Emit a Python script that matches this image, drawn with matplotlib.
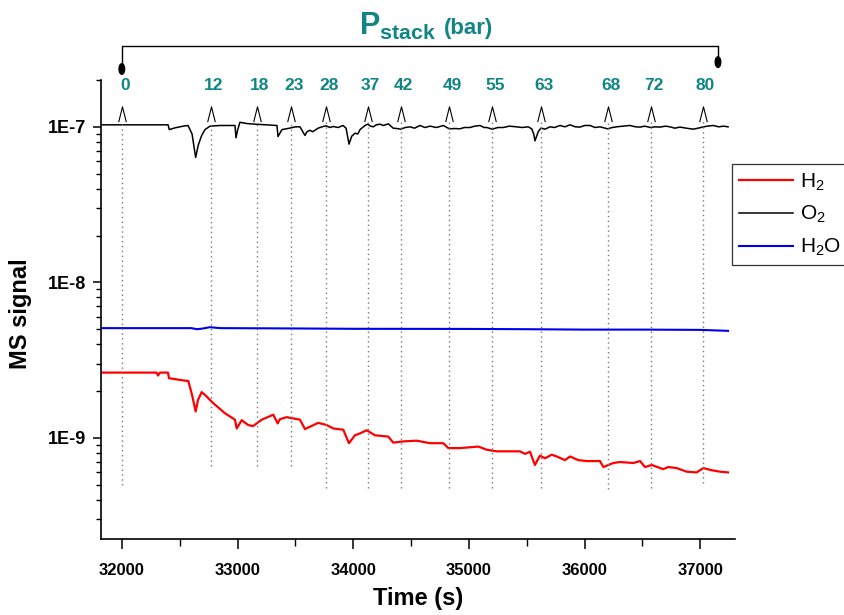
import numpy as np
import matplotlib.pyplot as plt
from matplotlib.path import Path
from matplotlib.patches import Ellipse
from matplotlib.ticker import MultipleLocator, LogLocator, FuncFormatter, NullFormatter
import matplotlib.transforms as mtransforms

plt.rcParams['font.family'] = ['Liberation Sans', 'DejaVu Sans']
plt.rcParams['mathtext.fontset'] = 'custom'
plt.rcParams['mathtext.rm'] = 'Liberation Sans'
plt.rcParams['mathtext.it'] = 'Liberation Sans:italic'
plt.rcParams['mathtext.bf'] = 'Liberation Sans:bold'

# O2 signal (A), values in 1e-7
o2_time = [31820, 32400, 32410, 32460, 32530, 32572, 32607, 32638, 32660, 32690,
           32719, 32762, 32850, 32978, 32987, 33000, 33021, 33080, 33151, 33250,
           33341, 33350, 33384, 33450, 33500, 33540, 33583, 33600, 33626, 33650,
           33696, 33730, 33765, 33800, 33826, 33870, 33912, 33938, 33964, 33987,
           34015, 34040, 34059, 34102, 34125, 34150, 34173, 34200, 34231, 34260,
           34303, 34346, 34380, 34410, 34450, 34491, 34530, 34577, 34620, 34664,
           34720, 34779, 34830, 34880, 34923, 34960, 35009, 35050, 35096, 35130,
           35154, 35202, 35250, 35297, 35350, 35413, 35460, 35513, 35543, 35560,
           35571, 35600, 35623, 35658, 35701, 35740, 35787, 35830, 35874, 35920,
           35960, 36000, 36047, 36090, 36133, 36199, 36240, 36277, 36330, 36392,
           36440, 36479, 36520, 36571, 36610, 36651, 36700, 36738, 36780, 36824,
           36880, 36939, 36980, 37020, 37060, 37112, 37160, 37200, 37240]
o2_signal = [1.03, 1.03, 0.96, 0.985, 1.01, 1.02, 0.90, 0.635, 0.76, 0.88,
             0.96, 1.01, 1.02, 1.02, 0.85, 0.95, 1.07, 1.05, 1.04, 1.03,
             1.02, 0.866, 0.96, 0.98, 1.00, 1.00, 0.88, 0.93, 0.95, 0.93,
             0.98, 1.00, 1.015, 0.99, 1.005, 0.99, 1.02, 0.98, 0.774, 0.87,
             0.91, 0.90, 0.96, 1.02, 1.04, 1.01, 1.00, 1.03, 1.04, 1.02,
             1.045, 0.98, 0.975, 0.966, 0.99, 1.00, 0.98, 1.02, 0.99, 1.01,
             0.99, 1.02, 0.971, 0.975, 0.971, 0.99, 0.99, 1.01, 1.02, 0.99,
             0.99, 0.966, 0.99, 0.99, 1.01, 1.00, 0.99, 1.00, 0.97, 0.90,
             0.813, 0.933, 0.981, 0.966, 1.00, 0.99, 1.02, 1.00, 1.03, 1.00,
             0.996, 1.02, 1.02, 0.99, 1.00, 0.971, 0.99, 1.00, 1.01, 1.02,
             1.00, 0.996, 1.01, 0.99, 1.00, 0.996, 1.01, 1.00, 0.98, 0.996,
             0.98, 0.966, 0.98, 0.996, 1.01, 1.02, 1.00, 1.01, 1.00]

# H2 signal (A), values in 1e-9
h2_time = [31820, 32300, 32313, 32330, 32399, 32408, 32503, 32575, 32607, 32638,
           32658, 32690, 32719, 32791, 32892, 32978, 32993, 33036, 33093, 33134,
           33209, 33309, 33347, 33367, 33425, 33540, 33583, 33626, 33698, 33771,
           33828, 33914, 33963, 34015, 34059, 34116, 34188, 34303, 34346, 34433,
           34549, 34664, 34779, 34822, 34923, 35081, 35154, 35240, 35441, 35485,
           35528, 35571, 35614, 35658, 35716, 35759, 35830, 35874, 35945, 36018,
           36133, 36162, 36248, 36306, 36421, 36479, 36522, 36580, 36680, 36723,
           36796, 36882, 36968, 37026, 37098, 37170, 37240]
h2_signal = [2.63, 2.63, 2.52, 2.63, 2.63, 2.42, 2.36, 2.32, 1.89, 1.48,
             1.75, 1.97, 1.89, 1.67, 1.44, 1.31, 1.15, 1.30, 1.21, 1.19,
             1.31, 1.41, 1.24, 1.32, 1.36, 1.31, 1.14, 1.18, 1.25, 1.21,
             1.15, 1.13, 0.925, 1.04, 1.07, 1.12, 1.04, 1.02, 0.933, 0.95,
             0.96, 0.925, 0.925, 0.86, 0.86, 0.88, 0.84, 0.82, 0.82, 0.79,
             0.815, 0.67, 0.77, 0.74, 0.78, 0.76, 0.72, 0.76, 0.72, 0.71,
             0.71, 0.65, 0.69, 0.70, 0.69, 0.71, 0.65, 0.67, 0.63, 0.65,
             0.64, 0.607, 0.60, 0.64, 0.62, 0.607, 0.60]

# H2O signal (A), values in 1e-9
h2o_time = [31820, 32600, 32650, 32700, 32760, 32850, 33400, 34000, 35000, 35500,
            36000, 36500, 37000, 37240]
h2o_signal = [5.08, 5.08, 5.00, 5.05, 5.15, 5.08, 5.06, 5.03, 5.02, 5.00,
              4.97, 4.97, 4.95, 4.88]

# stack pressure steps
p_stack = ['0', '12', '18', '23', '28', '37', '42', '49', '55', '63', '68', '72', '80']
p_time = [32000, 32771, 33166, 33460, 33765, 34125, 34410, 34830, 35202, 35623,
          36199, 36571, 37020]
p_line_bottom = [5.0, 6.6, 6.6, 6.6, 4.8, 4.8, 4.8, 4.8, 4.8, 4.8, 4.7, 4.8, 5.1]  # 1e-10

teal = '#108585'
ylo, yhi = 2.24e-10, 2e-7

fig = plt.figure(figsize=(8.45, 6.15), dpi=100)
ax = fig.add_axes([101 / 845, 76 / 615, 634 / 845, 459 / 615])

ax.plot(h2_time, np.array(h2_signal) * 1e-9, color='red', lw=1.6, label='H$_2$')
ax.plot(o2_time, np.array(o2_signal) * 1e-7, color='black', lw=1.1, label='O$_2$')
ax.plot(h2o_time, np.array(h2o_signal) * 1e-9, color='#0000ee', lw=1.5, label='H$_2$O')

# dotted markers for pressure steps
ax.vlines(p_time, np.array(p_line_bottom) * 1e-10, 1.09e-7, colors='#777777',
          linestyles=(0, (1, 2.5)), lw=1.0)
chevron = Path([(-0.5, -1), (0, 1), (0.5, -1)], [Path.MOVETO, Path.LINETO, Path.LINETO])
ax.plot(p_time, [1.21e-7] * len(p_time), ls='none', marker=chevron, ms=11,
        mfc='none', mec='black', mew=0.8, clip_on=False)

trans = mtransforms.blended_transform_factory(ax.transData, ax.transAxes)
for t, lab in zip(p_time, p_stack):
    ax.text(t + 25, 0.989, lab, transform=trans, color=teal, fontsize=12.5,
            fontweight='bold', ha='center', va='center', clip_on=False)

# bracket above
x0, x1 = p_time[0], 37153
ax.plot([x0, x0, x1, x1], [1.024, 1.074, 1.074, 1.039], color='black', lw=1.0,
        transform=trans, clip_on=False)
for xe, ye in [(x0, 1.024), (x1, 1.039)]:
    ax.add_patch(Ellipse((xe, ye), 48, 0.023, transform=trans, color='black',
                         clip_on=False))

fig.text(359 / 845, 1 - 35 / 615, r'$\mathbf{P_{stack}}$', color=teal,
         fontsize=22, ha='left', va='baseline')
fig.text(444 / 845, 1 - 34 / 615, '(bar)', color=teal, fontsize=16,
         fontweight='bold', ha='left', va='baseline')


def decade_label(v, p):
    if v < ylo or v > yhi:
        return ''
    return f"1E{int(round(np.log10(v)))}"


ax.set_yscale('log')
ax.set_xlim(31820, 37300)
ax.set_ylim(ylo, yhi)
ax.yaxis.set_major_locator(LogLocator(base=10))
ax.yaxis.set_minor_locator(LogLocator(base=10, subs=np.arange(2, 10)))
ax.yaxis.set_major_formatter(FuncFormatter(decade_label))
ax.yaxis.set_minor_formatter(NullFormatter())
ax.xaxis.set_major_locator(MultipleLocator(1000))
ax.xaxis.set_minor_locator(MultipleLocator(500))

for s in ['top', 'right']:
    ax.spines[s].set_visible(False)
for s in ['left', 'bottom']:
    ax.spines[s].set_linewidth(1.2)
ax.tick_params(axis='x', which='major', direction='out', length=7, width=1.1,
               labelsize=12, pad=10)
ax.tick_params(axis='x', which='minor', direction='out', length=5, width=1.0)
ax.tick_params(axis='y', which='major', direction='out', length=6, width=1.1,
               labelsize=13, pad=5)
ax.tick_params(axis='y', which='minor', direction='out', length=3.5, width=1.0)
for lbl in ax.get_xticklabels() + ax.get_yticklabels():
    lbl.set_fontweight('bold')

ax.set_xlabel('Time (s)', fontsize=17, fontweight='bold')
ax.set_ylabel('MS signal', fontsize=17, fontweight='bold')
ax.xaxis.set_label_coords(0.5, -0.105)
ax.yaxis.set_label_coords(-0.109, 0.49)

leg = ax.legend(loc='upper left', bbox_to_anchor=(732 / 845, 1 - 164 / 615),
                bbox_transform=fig.transFigure, fontsize=15, frameon=True,
                fancybox=False, framealpha=1, edgecolor='#333333', borderaxespad=0,
                handlelength=2.6, handletextpad=0.3, labelspacing=0.55, borderpad=0.35)
leg.get_frame().set_linewidth(0.9)

plt.savefig('out.png', dpi=100)
